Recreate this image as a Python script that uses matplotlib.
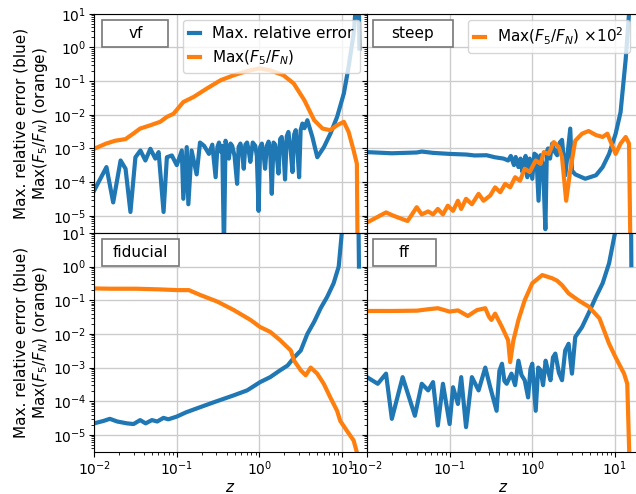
import matplotlib
matplotlib.use("Agg")
import matplotlib.pyplot as plt
from matplotlib.patches import Rectangle
from matplotlib.ticker import LogLocator

# ---- vf ----
vf_err_z = [0.0100, 0.0141, 0.0170, 0.0209, 0.0240, 0.0275, 0.0316, 0.0363, 0.0417, 0.0479,
            0.0550, 0.0603, 0.0692, 0.0759, 0.0871, 0.100, 0.115, 0.120, 0.132, 0.138,
            0.151, 0.174, 0.191, 0.214, 0.245, 0.269, 0.295, 0.31, 0.324, 0.34,
            0.355, 0.372, 0.389, 0.41, 0.427, 0.447, 0.468, 0.50, 0.537, 0.56,
            0.589, 0.62, 0.646, 0.676, 0.708, 0.74, 0.776, 0.83, 0.891, 0.93,
            0.977, 1.02, 1.07, 1.12, 1.17, 1.23, 1.29, 1.35, 1.41, 1.48,
            1.55, 1.62, 1.70, 1.78, 1.86, 1.95, 2.04, 2.14, 2.24, 2.37,
            2.51, 2.63, 2.75, 2.88, 3.02, 3.15, 3.31, 3.5, 3.80, 4.37,
            5.01, 6.03, 7.24, 8.71, 10.5, 12.0, 13.8, 15.1, 15.7, 16.2]
vf_err = [5.6e-5, 2.8e-4, 2.5e-5, 4.4e-4, 2.5e-4, 1.3e-5, 5.5e-4, 8.7e-4, 4.4e-4, 9.8e-4,
          5.0e-4, 7.8e-4, 1.3e-5, 5.5e-4, 6.2e-4, 3.2e-4, 8.7e-4, 3.2e-5, 1.1e-3, 2.2e-5,
          8.7e-4, 1.7e-4, 1.5e-3, 1.2e-3, 6.9e-4, 1.3e-3, 1.4e-4, 1.1e-3, 1.5e-3, 8e-4,
          1.2e-3, 1e-6, 1.7e-3, 9e-4, 5e-4, 1.4e-3, 1.2e-3, 6e-4, 8.9e-5, 1.1e-3,
          1.4e-3, 7e-4, 2.5e-4, 1.3e-3, 1.5e-3, 9e-4, 4e-4, 1.5e-3, 1.2e-3, 6e-4,
          1.4e-5, 1.1e-3, 1.4e-3, 7e-4, 2.5e-4, 1.2e-3, 1.6e-3, 9e-4, 4.5e-5, 1.5e-3,
          1.3e-3, 6e-4, 1.8e-4, 1.9e-3, 2.2e-3, 9e-4, 1.2e-4, 2.3e-3, 3.1e-3, 1.1e-3,
          2.0e-4, 2.6e-3, 3.5e-3, 9e-4, 1.4e-4, 3.5e-3, 5.5e-3, 4.0e-3, 6.9e-3, 2.2e-3,
          5.5e-4, 1.1e-3, 2.8e-3, 8.7e-3, 4.3e-2, 0.27, 2.6, 40, 1000, 0.93]
vf_ratio_z = [0.010, 0.014, 0.018, 0.024, 0.030, 0.036, 0.048, 0.063, 0.076, 0.091,
              0.12, 0.16, 0.23, 0.34, 0.49, 0.71, 1.0, 1.35, 1.95, 2.6,
              3.5, 4.6, 5.8, 7.2, 8.7, 10.5, 12.0, 13.8, 15.1, 15.5]
vf_ratio = [9.8e-4, 1.4e-3, 1.7e-3, 1.9e-3, 2.8e-3, 3.9e-3, 4.9e-3, 6.2e-3, 8.7e-3, 1.07e-2,
            2.4e-2, 3.4e-2, 6.0e-2, 0.107, 0.15, 0.20, 0.24, 0.21, 0.15, 0.085,
            0.027, 6.9e-3, 3.9e-3, 3.5e-3, 4.9e-3, 6.2e-3, 3.1e-3, 8.7e-4, 3.5e-4, 1e-7]

# ---- steep ----
steep_err_z = [0.010, 0.020, 0.040, 0.046, 0.063, 0.10, 0.16, 0.20, 0.28, 0.35,
               0.45, 0.51, 0.55, 0.60, 0.63, 0.68, 0.72, 0.76, 0.79, 0.83,
               0.87, 0.93, 1.0, 1.06, 1.12, 1.19, 1.26, 1.35, 1.44, 1.50,
               1.55, 1.64, 1.74, 1.87, 2.0, 2.15, 2.29, 2.51, 2.88, 3.02,
               3.31, 4.37, 5.9, 7.1, 8.5, 10.2, 11.7, 13.5, 14.8, 15.8]
steep_err = [7.8e-4, 7.2e-4, 7.6e-4, 8.1e-4, 7.4e-4, 6.9e-4, 6.6e-4, 6.2e-4, 6.3e-4, 5.5e-4,
             5e-4, 4.4e-4, 6e-4, 3.2e-4, 5.6e-4, 2.8e-4, 5e-4, 2e-4, 4e-4, 6e-4,
             1.4e-4, 5e-4, 1.26e-4, 7e-4, 6.3e-4, 2.8e-5, 6.3e-4, 3.2e-4, 4e-6, 8e-4,
             1e-3, 5e-4, 1.4e-3, 8e-4, 6.3e-4, 1.5e-3, 1.8e-3, 1.6e-4, 3.9e-3, 2.2e-4,
             1.7e-4, 1.26e-4, 1.6e-4, 2.8e-4, 6.9e-4, 2.75e-3, 1.2e-2, 0.45, 10, 300]
steep_ratio_z = [0.010, 0.017, 0.021, 0.031, 0.040, 0.046, 0.055, 0.063, 0.072, 0.083,
                 0.095, 0.11, 0.126, 0.138, 0.158, 0.186, 0.224, 0.257, 0.31, 0.355,
                 0.41, 0.47, 0.54, 0.62, 0.71, 0.81, 0.93, 1.10, 1.26, 1.38,
                 1.58, 1.82, 2.09, 2.29, 2.57, 2.88, 3.31, 4.0, 4.8, 5.9,
                 7.1, 8.1, 10.2, 11.7, 13.5, 14.8, 15.5]
steep_ratio = [6.3e-6, 1.26e-5, 1e-5, 7e-6, 1.8e-5, 1.1e-5, 1.35e-5, 1.1e-5, 1.6e-5, 1.1e-5,
               2e-5, 1.4e-5, 2.8e-5, 1.6e-5, 3.2e-5, 2.2e-5, 4.5e-5, 2.8e-5, 4e-5, 7e-5,
               5e-5, 8.9e-5, 7e-5, 1.4e-4, 1.1e-4, 2.5e-4, 2e-4, 4.4e-4, 3.5e-4, 7.8e-4,
               6.9e-4, 1.55e-3, 1.1e-3, 5.5e-4, 2.8e-5, 2.2e-4, 1.7e-3, 2.75e-3, 3.3e-3, 2.5e-3,
               2.2e-3, 2.75e-3, 6.9e-4, 1.4e-3, 2.2e-3, 1.4e-3, 3e-7]

# ---- fiducial ----
fid_err_z = [0.010, 0.013, 0.0155, 0.019, 0.025, 0.030, 0.036, 0.042, 0.050, 0.058,
             0.069, 0.079, 0.10, 0.13, 0.19, 0.28, 0.49, 0.71, 1.02, 1.35,
             1.78, 2.19, 2.63, 3.16, 3.8, 4.6, 5.5, 6.6, 7.9, 9.1,
             10.0, 15.5, 16.0]
fid_err = [2.2e-5, 2.6e-5, 3e-5, 2.5e-5, 2.2e-5, 2.1e-5, 2.75e-5, 2.2e-5, 2.75e-5, 2.5e-5,
           3.2e-5, 2.9e-5, 3.5e-5, 4.7e-5, 6.6e-5, 9.3e-5, 1.5e-4, 2.1e-4, 3.7e-4, 5.2e-4,
           8.3e-4, 1.15e-3, 2.0e-3, 3.2e-3, 1.0e-2, 2.3e-2, 5.8e-2, 0.126, 0.32, 1.0,
           12.6, 1000, 1.0]
fid_ratio_z = [0.010, 0.016, 0.032, 0.063, 0.10, 0.14, 0.19, 0.31, 0.49, 0.78,
               1.02, 1.35, 1.78, 2.4, 2.63, 3.16, 3.63, 4.17, 5.0, 6.0,
               7.2, 8.7, 9.5, 11.5, 13.8, 15.1, 15.8]
fid_ratio = [0.224, 0.22, 0.22, 0.21, 0.20, 0.20, 0.145, 0.091, 0.051, 0.026,
             0.016, 0.0115, 6.5e-3, 3.2e-3, 1.6e-3, 8.3e-4, 5.9e-4, 1.0e-3, 6.6e-4, 3.3e-4,
             1.3e-4, 5.2e-5, 2.6e-5, 1.3e-5, 6.8e-6, 3e-6, 1e-7]

# ---- ff ----
ff_err_z = [0.010, 0.0135, 0.017, 0.020, 0.027, 0.038, 0.046, 0.055, 0.063, 0.072,
            0.083, 0.10, 0.11, 0.126, 0.138, 0.158, 0.186, 0.224, 0.27, 0.31,
            0.37, 0.40, 0.43, 0.46, 0.49, 0.56, 0.62, 0.68, 0.74, 0.81,
            0.89, 0.95, 1.0, 1.10, 1.18, 1.26, 1.35, 1.45, 1.55, 1.66,
            1.78, 1.9, 2.1, 2.29, 2.5, 2.75, 3.02, 3.31, 4.0, 4.8,
            5.9, 7.1, 8.5, 10.2, 15.5, 15.8]
ff_err = [5.2e-4, 3.3e-4, 6.6e-4, 3e-5, 5.2e-4, 3.7e-5, 3.3e-4, 2.1e-4, 3.7e-4, 1.9e-5,
          3.3e-4, 2.1e-5, 2.6e-4, 8.3e-5, 5.2e-4, 1.7e-5, 5.2e-4, 2.1e-4, 1.0e-3, 2.6e-4,
          5.2e-5, 8e-4, 1.3e-3, 4e-4, 3.3e-4, 6.6e-4, 3e-4, 1.6e-3, 6e-4, 4.2e-4,
          1.3e-4, 9e-4, 1.3e-3, 5.2e-5, 1e-3, 8.3e-4, 3e-4, 1.6e-3, 8e-4, 4.2e-4,
          2e-3, 2.6e-3, 7e-4, 4.2e-4, 3.2e-3, 5.1e-3, 6.6e-4, 8.1e-3, 0.016, 0.041,
          0.126, 0.32, 1.26, 12.6, 1000, 1.1]
ff_ratio_z = [0.010, 0.020, 0.040, 0.055, 0.072, 0.10, 0.126, 0.166, 0.214, 0.27,
              0.30, 0.32, 0.355, 0.43, 0.51, 0.54, 0.59, 0.68, 0.81, 1.0,
              1.32, 1.74, 2.0, 2.29, 2.75, 3.6, 4.8, 6.5, 8.5, 10.2,
              12.9, 14.1, 15.5]
ff_ratio = [0.048, 0.048, 0.049, 0.054, 0.058, 0.046, 0.05, 0.034, 0.051, 0.058,
            0.032, 0.026, 0.04, 0.016, 6.5e-3, 1.45e-3, 6.3e-3, 0.026, 0.10, 0.32,
            0.56, 0.45, 0.38, 0.28, 0.16, 0.10, 0.065, 0.029, 5.1e-3, 2.0e-3,
            6.6e-4, 3.3e-4, 1e-7]

panels = [
    ("vf", vf_err_z, vf_err, vf_ratio_z, vf_ratio),
    ("steep", steep_err_z, steep_err, steep_ratio_z, steep_ratio),
    ("fiducial", fid_err_z, fid_err, fid_ratio_z, fid_ratio),
    ("ff", ff_err_z, ff_err, ff_ratio_z, ff_ratio),
]
# label box widths in axes fraction
box_w = {"vf": 0.242, "steep": 0.293, "fiducial": 0.282, "ff": 0.231}

plt.rcParams["font.size"] = 11
plt.rcParams["xtick.labelsize"] = 10
plt.rcParams["ytick.labelsize"] = 10
fig, axes = plt.subplots(2, 2, sharex=True, sharey=True, figsize=(6.36, 4.94), dpi=100)
fig.subplots_adjust(left=0.148, right=1.006, top=0.972, bottom=0.085, wspace=0, hspace=0)

blue = "#1f77b4"
orange = "#ff7f0e"
for ax, (name, ez, ev, rz, rv) in zip(axes.flat, panels):
    if name == "steep":
        ax.plot(ez, ev, color=blue, lw=3)
        ax.plot(rz, rv, color=orange, lw=3, label=r"Max($F_5/F_N$) $\times 10^2$")
    else:
        ax.plot(ez, ev, color=blue, lw=3, label="Max. relative error")
        ax.plot(rz, rv, color=orange, lw=3, label=r"Max($F_5/F_N$)")
    ax.set_xscale("log")
    ax.set_yscale("log")
    ax.set_xlim(1e-2, 20)
    ax.set_ylim(3.1e-6, 10)
    ax.yaxis.set_major_locator(LogLocator(base=10, numticks=20))
    ax.tick_params(which="major", pad=2)
    ax.grid(True, which="major", color="#cccccc", lw=1)
    ax.set_axisbelow(True)
    x0 = 0.03 if ax in axes[:, 0] else 0.022
    ax.add_patch(Rectangle((x0, 0.848), box_w[name], 0.125, transform=ax.transAxes,
                           facecolor="white", edgecolor="#777777", lw=1.2, zorder=5))
    ax.text(x0 + box_w[name] / 2, 0.91, name, transform=ax.transAxes,
            ha="center", va="center", fontsize=11, zorder=6)

axes[0, 0].legend(loc="upper right", bbox_to_anchor=(0.985, 0.985), handlelength=0.7,
                  fontsize=11, borderaxespad=0.2)
axes[0, 1].legend(loc="upper right", bbox_to_anchor=(0.975, 0.985), handlelength=0.7,
                  fontsize=11, borderaxespad=0.2)

ylab = "Max. relative error (blue)\n" + r"Max($F_5/F_N$) (orange)"
for ax in axes[:, 0]:
    ax.set_ylabel(ylab, labelpad=2)
for ax in axes[1, :]:
    ax.set_xlabel(r"$z$", labelpad=1)

fig.savefig("out.png", dpi=100)
